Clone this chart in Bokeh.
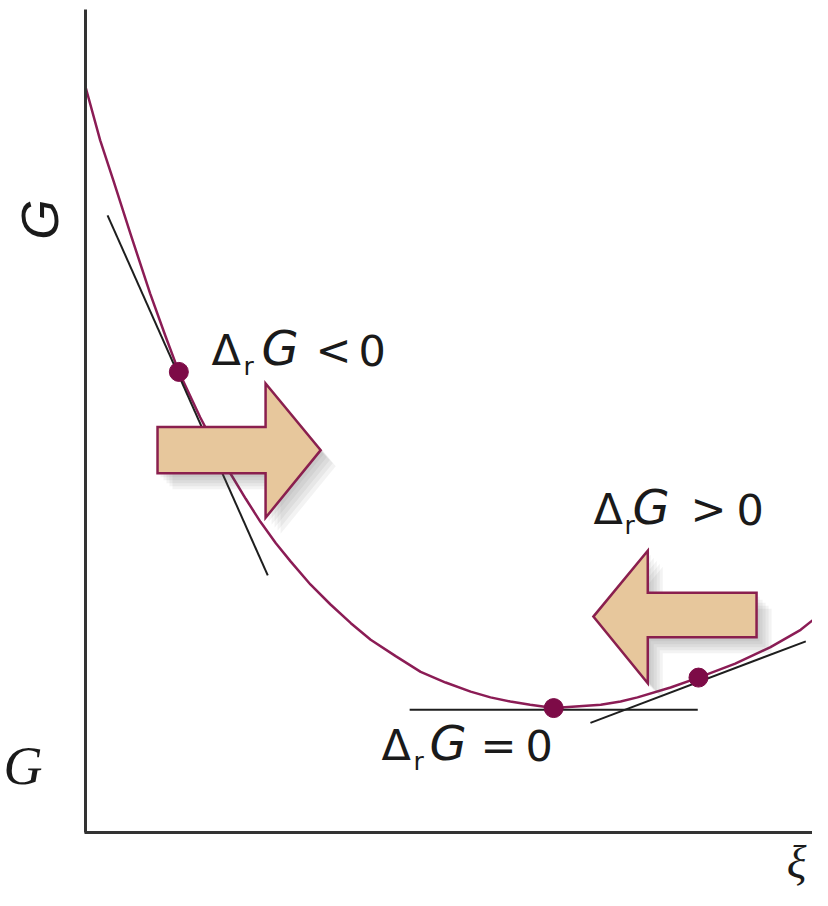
import math
from bokeh.plotting import figure
from bokeh.models import Range1d, Label, LinearAxis, FixedTicker
from bokeh.embed import file_html
from bokeh.resources import INLINE

# ---------------- data (arbitrary units 0..1) ----------------
# Gibbs energy curve G(xi)
xi = [0.000, 0.020, 0.038, 0.061, 0.088, 0.109, 0.127, 0.156, 0.177, 0.197,
      0.218, 0.238, 0.259, 0.279, 0.306, 0.333, 0.361, 0.388, 0.422, 0.456,
      0.490, 0.524, 0.551, 0.578, 0.605, 0.637, 0.667, 0.701, 0.728, 0.751,
      0.796, 0.834, 0.884, 0.932, 0.973, 1.011]
G = [0.905, 0.840, 0.791, 0.727, 0.654, 0.602, 0.559, 0.504, 0.468, 0.436,
     0.405, 0.377, 0.351, 0.329, 0.301, 0.277, 0.254, 0.234, 0.214, 0.195,
     0.182, 0.171, 0.164, 0.159, 0.155, 0.151, 0.153, 0.155, 0.159, 0.164,
     0.176, 0.188, 0.205, 0.225, 0.246, 0.273]

# marked states on the curve
point_xi = [0.127, 0.637, 0.834]
point_G = [0.559, 0.151, 0.188]

# tangent lines through the marked states
tangent_xi0 = [0.030, 0.441, 0.687]
tangent_G0 = [0.749, 0.149, 0.133]
tangent_xi1 = [0.248, 0.833, 0.980]
tangent_G1 = [0.312, 0.149, 0.232]

# block arrows (direction of spontaneous change)
right_arrow_xi = [0.098, 0.245, 0.245, 0.320, 0.245, 0.245, 0.098]
right_arrow_G = [0.492, 0.492, 0.545, 0.464, 0.382, 0.436, 0.436]
left_arrow_xi = [0.913, 0.765, 0.765, 0.691, 0.765, 0.765, 0.913]
left_arrow_G = [0.291, 0.291, 0.342, 0.262, 0.181, 0.237, 0.237]

# ---------------- figure ----------------
W, H = 812, 890
X0, Y0 = 85, 832      # pixel position of the origin
UX, UY = 735, 824     # pixels per data unit

p = figure(width=W, height=H,
           x_range=Range1d(-X0 / UX, (W - X0) / UX),
           y_range=Range1d((Y0 - H) / UY, Y0 / UY),
           output_backend="svg", toolbar_location=None,
           x_axis_type=None, y_axis_type=None, min_border=0)
p.outline_line_color = None
p.background_fill_color = "white"
p.border_fill_color = "white"

yaxis = LinearAxis(fixed_location=0, bounds=(0, (Y0 - 9) / UY),
                   ticker=FixedTicker(ticks=[]), axis_line_width=3,
                   axis_line_color="#333333", major_tick_line_color=None,
                   minor_tick_line_color=None, major_label_text_font_size="0px")
xaxis = LinearAxis(fixed_location=0, bounds=(-1.5 / UX, (W - X0) / UX),
                   ticker=FixedTicker(ticks=[]), axis_line_width=3,
                   axis_line_color="#333333", major_tick_line_color=None,
                   minor_tick_line_color=None, major_label_text_font_size="0px")
p.add_layout(yaxis, "left")
p.add_layout(xaxis, "below")

# screen position (pixels) -> data units, for annotations only
def sx(x):
    return (x - X0) / UX

def sy(y):
    return (Y0 - y) / UY

CURVE = "#8b1c55"
DOT = "#7d0b47"

p.line(xi, G, line_color=CURVE, line_width=2.5, line_join="round")
p.segment(tangent_xi0, tangent_G0, tangent_xi1, tangent_G1,
          line_color="#1e1e1e", line_width=2)

# arrow shadows
for dx, dy in [(3, 4), (6, 7), (9, 10), (12, 13), (15, 16)]:
    for ax_, ay_ in ((right_arrow_xi, right_arrow_G), (left_arrow_xi, left_arrow_G)):
        p.patch([v + dx / UX for v in ax_], [v - dy / UY for v in ay_],
                fill_color="#555555", fill_alpha=0.07, line_color=None)

for ax_, ay_ in ((right_arrow_xi, right_arrow_G), (left_arrow_xi, left_arrow_G)):
    p.patch(ax_, ay_, fill_color="#e7c79c", line_color="#8a1f4e",
            line_width=2.5, line_join="miter")

p.scatter(point_xi, point_G, size=19, fill_color=DOT, line_color=DOT)

# ---------------- texts ----------------
FONT = "DejaVu Sans"

def add(text, x, y, size, style="normal", font=FONT, align="left", angle=0.0):
    # x, y: wanted baseline position in pixels; correct the renderer's
    # baseline shift along the text's "down" direction
    off = 0.43 * size
    x -= off * math.sin(angle)
    y -= off * math.cos(angle)
    p.add_layout(Label(x=sx(x), y=sy(y), text=text, text_font=font,
                       text_font_size=f"{size}px", text_font_style=style,
                       text_color="#1a1a1a", text_align=align,
                       text_baseline="alphabetic", angle=angle))

def delta_label(x0, base, rx, gx, opx, zx, op):
    add("Δ", x0, base, 43)
    add("r", rx, base + 9, 25)
    add("G", gx, base, 48, "italic")
    add(op, opx, base, 43)
    add("0", zx, base, 43)

delta_label(211, 368, 243, 261, 315, 358, "<")
delta_label(593, 527, 624, 632, 690, 736, ">")
delta_label(381, 763, 413, 429, 480, 525, "=")

add("G", 62, 219, 52, "italic", "Liberation Sans", "center", math.pi / 2)
add("G", 3, 789, 54, "italic", "Liberation Serif")
add("ξ", 796, 882, 46, "italic", "Liberation Serif", "center")

open("out.html", "w").write(file_html(p, INLINE))
